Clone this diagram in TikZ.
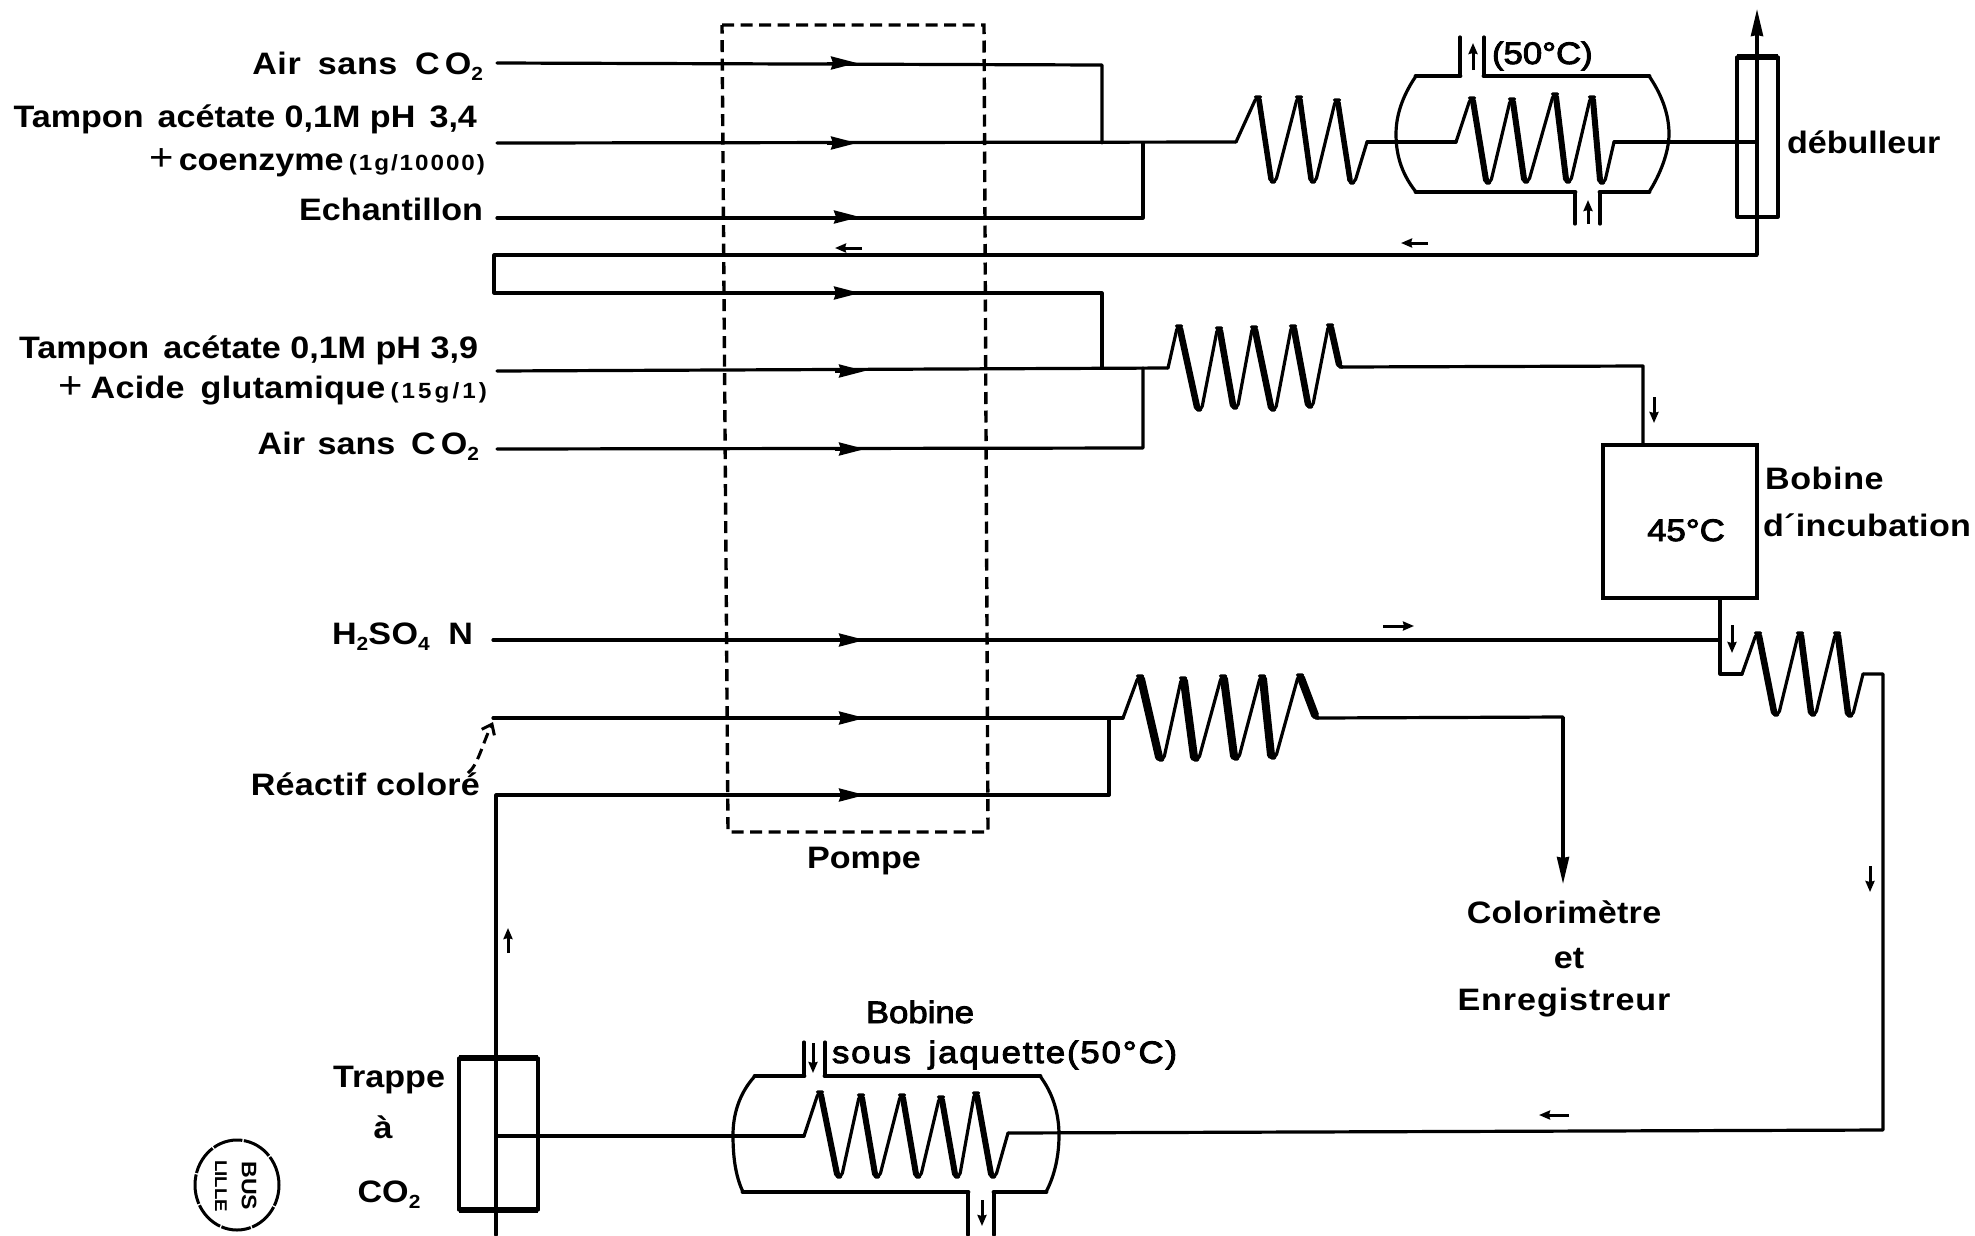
\documentclass[tikz,border=0pt]{standalone}
\usepackage{fontspec}
\setmainfont{Liberation Sans}[FakeStretch=1.1]
\newfontfamily\medf{Liberation Sans}[FakeStretch=1.12,FakeBold=3]
\usetikzlibrary{arrows.meta,shapes.geometric}
\newcommand{\fs}[1]{\fontsize{#1}{#1}\selectfont}
\newcommand{\ssub}[1]{\raisebox{-6pt}{\fs{19}#1}}
\newcommand{\ls}[2]{{\addfontfeatures{LetterSpace=#1}#2}}
\newcommand{\coilpath}[4][5]{%
  \draw[wire,rounded corners=4] (#2) \foreach \a/\b/\c/\d in {#3} { -- (\a-1.5,\b) -- (\a+1.5,\b) -- (\c-2.5,\d) -- (\c+2.5,\d) } -- (#4);
  \foreach \a/\b/\c/\d in {#3} { \draw[line width=#1,line cap=round] (\a+1,\b+3) -- (\c-2,\d-3); }
}
\tikzset{
  wire/.style={line width=3.2,line join=round,line cap=round},
  heavy/.style={line width=4.8,line cap=round},
  pumpbox/.style={line width=3.4,dash pattern=on 12 off 6.5},
  small/.style={line width=3,-{Stealth[length=11,width=9,inset=1]}},
  pumparrow/.style={line width=3,-{Stealth[length=26,width=13,inset=2]}},
  bigarrow/.style={line width=3.2,-{Stealth[length=27,width=12,inset=1]}},
  lab/.style={inner sep=0,outer sep=0,font=\fs{31}\bfseries},
  labr/.style={lab,anchor=base east},
  labl/.style={lab,anchor=base west},
  labc/.style={lab,anchor=base},
}
\begin{document}
\begin{tikzpicture}[x=1pt,y=-1pt]
\useasboundingbox (0,0) rectangle (1975,1235);
\fill[white] (0,0) rectangle (1975,1235);

% pump
\coordinate (pa) at (722,25); \coordinate (pb) at (984,25);
\coordinate (pc) at (988,832); \coordinate (pd) at (728,832);
\draw[pumpbox] (pa) -- (pb) -- (pc) -- (pd) -- cycle;

% labels
\node[labr] (l1) at (483,74) {\ls{2}{Air\hspace{.55em}sans\hspace{.4em}\,C\,O\ssub{2}}};
\node[labr] (l2) at (477,127) {Tampon\hspace{.15em} acétate 0,1M pH\hspace{.15em} 3,4};
\node[labr] (l3) at (485,170) {{\mdseries\fs{38}+}\,coenzyme\,{\fs{22}\ls{9}{(1g/10000)}}};
\node[labr] (l4) at (483,220) {Echantillon};
\node[labr] (l5) at (478,358) {Tampon\hspace{.15em} acétate 0,1M pH 3,9};
\node[labr] (l6) at (487,398) {{\mdseries\fs{38}+}\hspace{.25em}\ls{1}{Acide\hspace{.2em} glutamique}\,{\fs{22}\ls{14}{(15g/1)}}};
\node[labr] (l7) at (479,454) {Air\hspace{.1em} sans\hspace{.2em} C\,O\ssub{2}};
\node[labr] (l8) at (473,644) {\ls{2}{H\ssub{2}SO\ssub{4}\hspace{.6em}N}};
\node[labr] (l9) at (480,795) {\ls{1}{Réactif coloré}};
\node[labc] (pompe) at (864,868) {Pompe};
\node[labc] (col1) at (1564,923) {\ls{1}{Colorimètre}};
\node[labc] (col2) at (1569,968) {et};
\node[labc] (col3) at (1564,1010) {\ls{3}{Enregistreur}};
\node[labl] (t50) at (1492,64) {\medf\mdseries (50°C)};
\node[labl] (deb) at (1787,153) {débulleur};
\node[labl] (bob1) at (1765,489) {\ls{2}{Bobine}};
\node[labl] (bob2) at (1763,536) {\ls{1}{d´incubation}};
\node[labc] (b45) at (1686,541) {\medf\mdseries 45°C};
\node[labc] (bob3) at (920,1023) {\medf\mdseries Bobine};
\node[labl] (bob4) at (832,1063) {\medf\mdseries \ls{6}{sous\hspace{.2em} jaquette(50°C)}};
\node[labr] (tr1) at (445,1087) {Trappe};
\node[labc] (tr2) at (383,1138) {à};
\node[labc] (tr3) at (389,1202) {CO\ssub{2}};

% input lines
\coordinate (a1) at (497,63); \coordinate (a1b) at (1102,65); \coordinate (j1) at (1102,143);
\coordinate (t1) at (497,143); \coordinate (c1s) at (1236,142);
\coordinate (e1) at (497,218); \coordinate (e2) at (1143,218); \coordinate (j2) at (1143,143);
\draw[wire] (a1) -- (a1b) -- (j1);
\draw[wire] (t1) -- (c1s);
\draw[wire] (e1) -- (e2) -- (j2);

% return loop
\coordinate (deb1) at (1757,255); \coordinate (r1) at (494,255); \coordinate (r2) at (494,293);
\coordinate (r3) at (1102,293); \coordinate (j3) at (1102,368);
\coordinate (t2) at (497,371); \coordinate (c3s) at (1168,368);
\coordinate (a2) at (497,449); \coordinate (a2b) at (1143,448); \coordinate (j4) at (1143,368);
\draw[wire] (deb1) -- (r1) -- (r2) -- (r3) -- (j3);
\draw[wire] (t2) -- (c3s);
\draw[wire] (a2) -- (a2b) -- (j4);

% coils upper
\coordinate (c1e) at (1367,142); \coordinate (c2s) at (1456,142);
\coordinate (c2e) at (1614,142); \coordinate (debm) at (1757,142);
\coilpath[5.5]{c1s}{1258/97/1273/182,1299/97/1313/182,1337/100/1352/183}{c1e}
\draw[wire] (c1e) -- (c2s);
\coilpath[6]{c2s}{1472/98/1488/183,1512/99/1526/182,1555/94/1568/182,1592/97/1602/183}{c2e}
\draw[wire] (c2e) -- (debm);

% jacket top
\coordinate (ja) at (1416,76); \coordinate (jb) at (1460,76); \coordinate (jb2) at (1460,37);
\coordinate (jc) at (1484,37); \coordinate (jc2) at (1484,76); \coordinate (jd) at (1649,76);
\coordinate (je) at (1649,192); \coordinate (jf) at (1600,192); \coordinate (jf2) at (1600,224);
\coordinate (jg) at (1575,224); \coordinate (jg2) at (1575,192); \coordinate (jh) at (1416,192);
\draw[heavy] (ja) -- (jb); \draw[wire] (jb) -- (jb2); \draw[wire] (jc) -- (jc2);
\draw[heavy] (jc2) -- (jd); \draw[heavy] (je) -- (jf); \draw[wire] (jf) -- (jf2);
\draw[wire] (jg) -- (jg2); \draw[heavy] (jg2) -- (jh);
\draw[wire] (jh) .. controls (1400,172) and (1396,152) .. (1396,134) .. controls (1396,112) and (1405,92) .. (ja);
\draw[wire] (jd) .. controls (1660,92) and (1669,112) .. (1669,134) .. controls (1669,152) and (1660,175) .. (je);
\coordinate (s1) at (1473,70); \coordinate (s1b) at (1473,43);
\coordinate (s2) at (1588,224); \coordinate (s2b) at (1588,200);
\draw[small] (s1) -- (s1b); \draw[small] (s2) -- (s2b);

% debulleur
\coordinate (d1) at (1737,57); \coordinate (d2) at (1778,57);
\coordinate (d3) at (1778,217); \coordinate (d4) at (1737,217);
\draw[wire] (d1) -- (d4) -- (d3) -- (d2);
\draw[line width=6] (d1) -- (d2);
\coordinate (dtop) at (1757,9);
\draw[bigarrow] (deb1) -- (dtop);

% coil 3 and box
\node[draw,line width=4.5,minimum width=154pt,minimum height=153pt,inner sep=0,outer sep=0] (box) at (1680,521.5) {};
\coordinate (c3e) at (1341,367); \coordinate (c3k) at (1643,366);
\coilpath[6.5]{c3s}{1179/326/1199/410,1219/328/1235/408,1254/327/1273/410,1293/326/1310/407,1330/325/1341/367}{c3e}
\draw[wire] (c3e) -- (c3k) -- (c3k |- box.north);

% H2SO4 and coil 4
\coordinate (h1) at (493,640); \coordinate (h2) at (1720,640);
\coordinate (h3) at (1720,598); \coordinate (h4) at (1720,674); \coordinate (c4s) at (1742,674);
\coordinate (c4e) at (1863,674); \coordinate (g1) at (1883,674); \coordinate (g2) at (1883,1130);
\coordinate (c5e) at (1008,1133);
\draw[wire] (h1) -- (h2);
\draw[wire] (h3) -- (h4) -- (c4s);
\coilpath[6.5]{c4s}{1758/633/1776/715,1800/633/1813/715,1837/633/1850/716}{c4e}
\draw[wire] (c4e) -- (g1) -- (g2) -- (c5e);

% reagent lines and coil 6
\coordinate (m1) at (493,718); \coordinate (c6s) at (1123,718);
\coordinate (m2) at (496,795); \coordinate (m3) at (1109,795); \coordinate (m4) at (1109,718);
\coordinate (c6e) at (1317,718); \coordinate (m5) at (1563,717); \coordinate (m6) at (1563,884);
\coordinate (tbot) at (496,1235);
\draw[wire] (m1) -- (c6s);
\draw[wire] (m3) -- (m4);
\draw[wire] (tbot) -- (m2) -- (m3);
\coilpath[8]{c6s}{1140/676/1161/760,1183/678/1196/760,1223/676/1236/759,1262/676/1273/758,1300/675/1317/718}{c6e}
\draw[wire] (c6e) -- (m5);
\draw[bigarrow] (m5) -- (m6);

% dashed reagent pointer
\coordinate (ptrs) at (468,773); \coordinate (ptre) at (493,722);
\draw[line width=3,dash pattern=on 11 off 6,-{Straight Barb[length=9,width=14]}] (ptrs) .. controls (478,765) and (482,745) .. (ptre);

% bottom jacket and coil 5
\coordinate (c5s) at (804,1136);
\coilpath[6]{c5s}{820/1092/839/1177,861/1095/877/1177,902/1095/918/1177,941/1097/957/1177,976/1093/993/1177}{c5e}
\coordinate (ka) at (755,1076); \coordinate (kb) at (804,1076); \coordinate (kb2) at (804,1042);
\coordinate (kc) at (825,1042); \coordinate (kc2) at (825,1076); \coordinate (kd) at (1040,1076);
\coordinate (ke) at (1046,1192); \coordinate (kf) at (994,1192); \coordinate (kf2) at (994,1235);
\coordinate (kg) at (968,1235); \coordinate (kg2) at (968,1192); \coordinate (kh) at (743,1192);
\draw[heavy] (ka) -- (kb); \draw[wire] (kb) -- (kb2); \draw[wire] (kc) -- (kc2);
\draw[heavy] (kc2) -- (kd); \draw[heavy] (ke) -- (kf); \draw[wire] (kf) -- (kf2);
\draw[wire] (kg) -- (kg2); \draw[heavy] (kg2) -- (kh);
\draw[wire] (kh) .. controls (735,1175) and (733,1155) .. (733,1135) .. controls (733,1110) and (742,1090) .. (ka);
\draw[wire] (kd) .. controls (1052,1092) and (1059,1112) .. (1059,1135) .. controls (1059,1155) and (1055,1175) .. (ke);
\coordinate (s3) at (813,1043); \coordinate (s3b) at (813,1073);
\coordinate (s4) at (982,1200); \coordinate (s4b) at (982,1226);
\draw[small] (s3) -- (s3b); \draw[small] (s4) -- (s4b);

% trap
\coordinate (q1) at (459,1058); \coordinate (q2) at (538,1058);
\coordinate (q3) at (538,1210); \coordinate (q4) at (459,1210); \coordinate (qm) at (496,1136);
\draw[wire] (q1) -- (q4); \draw[wire] (q2) -- (q3);
\draw[line width=6] (q1) -- (q2); \draw[line width=6] (q4) -- (q3);
\draw[wire] (qm) -- (c5s);

% pump arrows
\foreach \n/\xa/\ya in {1/857/63,2/857/143,3/860/217,4/860/293,5/865/371,6/865/449,7/865/640,8/865/718,9/865/795}{
  \coordinate (pa\n) at (\xa-30,\ya); \coordinate (pb\n) at (\xa,\ya);
  \draw[pumparrow] (pa\n) -- (pb\n);
}
% small flow arrows
\foreach \n/\xa/\ya/\xb/\yb in {1/1428/243/1401/243,2/862/248/835/248,3/1383/626/1414/626,4/1654/397/1654/423,5/1732/625/1732/653,6/1870/866/1870/892,7/1569/1115/1539/1115,8/508/953/508/928}{
  \coordinate (fa\n) at (\xa,\ya); \coordinate (fb\n) at (\xb,\yb);
  \draw[small] (fa\n) -- (fb\n);
}

% stamp
\node[draw,ellipse,line width=3,dash pattern=on 30 off 1.5,minimum width=84pt,minimum height=90pt,inner sep=0] (stamp) at (237,1185) {};
\node[rotate=-90,inner sep=0,font=\fs{21}\bfseries] (st1) at (249,1186) {BUS};
\node[rotate=-90,inner sep=0,font=\fs{17}\bfseries] (st2) at (221,1186) {LILLE};
\end{tikzpicture}
\end{document}
